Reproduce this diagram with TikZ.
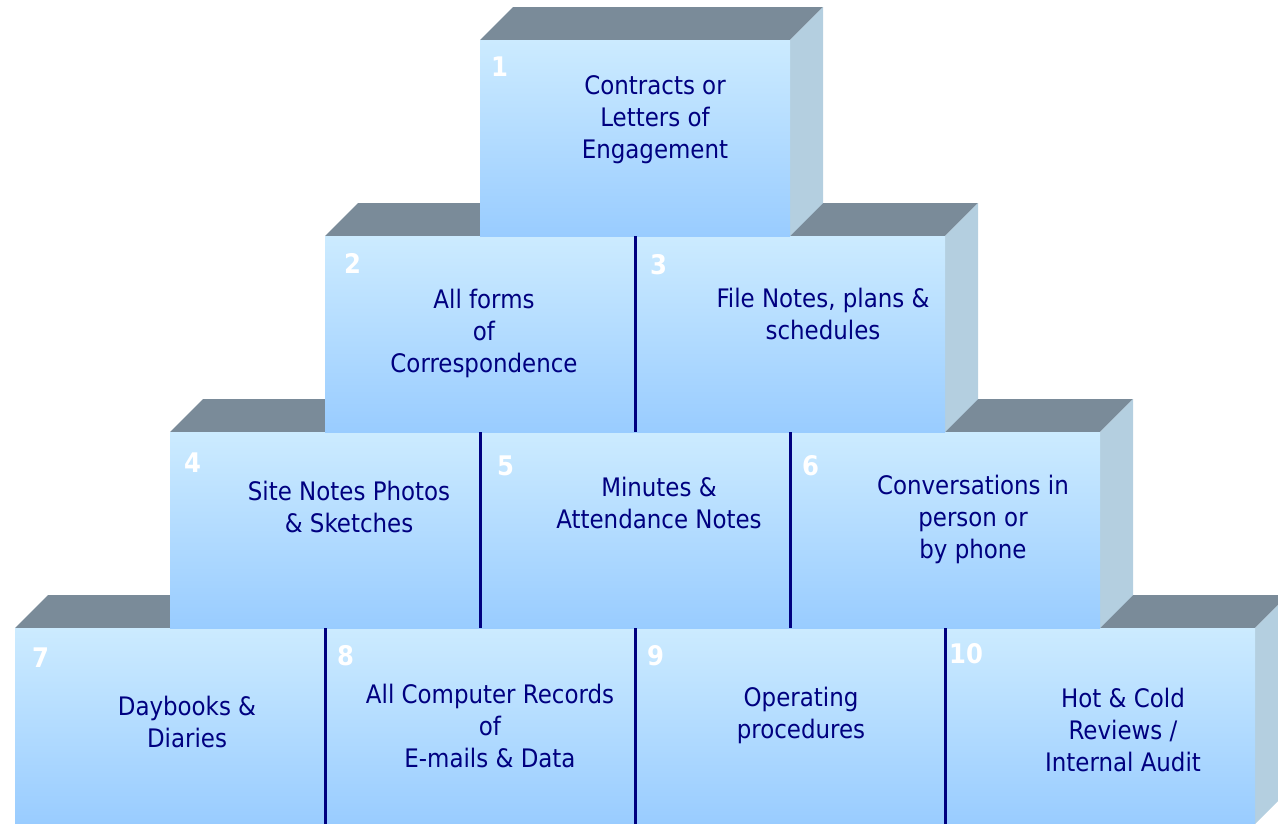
\documentclass[tikz,border=0pt]{standalone}
\usepackage{fontspec}
\setsansfont{DejaVu Sans Condensed}
\usetikzlibrary{positioning}
\definecolor{facetop}{HTML}{CCEBFF}
\definecolor{facebot}{HTML}{99CCFF}
\definecolor{lidgray}{HTML}{7A8B99}
\definecolor{sideblue}{HTML}{B4CFE0}
\definecolor{inknavy}{HTML}{000080}
\tikzset{
  x=1pt, y=-1pt,
  front/.style={anchor=north west, minimum width=310pt, minimum height=196pt,
    inner sep=0pt, top color=facetop, bottom color=facebot},
  lid/.style={fill=lidgray},
  side/.style={fill=sideblue},
  divider/.style={draw=inknavy, line width=2.2pt},
  caption/.style={align=center, text=inknavy, inner sep=0pt,
    font=\sffamily\fontsize{25.5}{32}\selectfont},
  num/.style={anchor=west, text=white, inner sep=0pt,
    font=\sffamily\bfseries\fontsize{27}{27}\selectfont},
}

\begin{document}
\begin{tikzpicture}
    \clip (0,0) rectangle (1278,823);
    % rows of boxes, bottom row first so each row sits on the one below
    \foreach \r in {4,3,2,1}{
      \pgfmathsetmacro\xl{480-155*(\r-1)}
      \pgfmathsetmacro\yt{40+196*(\r-1)}
      \pgfmathsetmacro\w{310*\r}
      \fill[lid] (\xl,\yt) -- ++(33,-33) -- ++(\w,0) -- ++(-33,33) -- cycle;
      \fill[side] (\xl+\w,\yt) -- ++(33,-33) -- ++(0,196) -- ++(-33,33) -- cycle;
      \foreach \k in {1,...,\r}{
        \pgfmathtruncatemacro\n{\r*(\r-1)/2+\k}
        \node[front] (b\n) at (\xl+310*\k-310,\yt) {};
      }
    }
    \foreach \n in {2,4,5,7,8,9}
      \draw[divider] (b\n.north east) -- (b\n.south east);

    % numbers
    \foreach \n/\x/\y in {1/491/67, 2/344/263, 3/650/265, 4/184/463, 5/497/466,
                          6/802/466, 7/32/658, 8/337/656, 9/647/656, 10/949/654}
      \node[num] (n\n) at (\x,\y) {\n};

    % texts
    \node[caption] (t1) at (655,120) {Contracts or\\Letters of\\Engagement};
    \node[caption] (t2) at (484,333) {All forms\\of\\Correspondence};
    \node[caption] (t3) at (823,314) {File Notes, plans \&\\schedules};
    \node[caption] (t4) at (349,507) {Site Notes Photos\\\& Sketches};
    \node[caption] (t5) at (659,503) {Minutes \&\\Attendance Notes};
    \node[caption] (t6) at (973,519) {Conversations in\\person or\\by phone};
    \node[caption] (t7) at (187,722) {Daybooks \&\\Diaries};
    \node[caption] (t8) at (490,726) {All Computer Records\\of\\E-mails \& Data};
    \node[caption] (t9) at (801,715) {Operating\\procedures};
    \node[caption] (t10) at (1123,730) {Hot \& Cold\\Reviews /\\Internal Audit};
  \end{tikzpicture}
\end{document}
